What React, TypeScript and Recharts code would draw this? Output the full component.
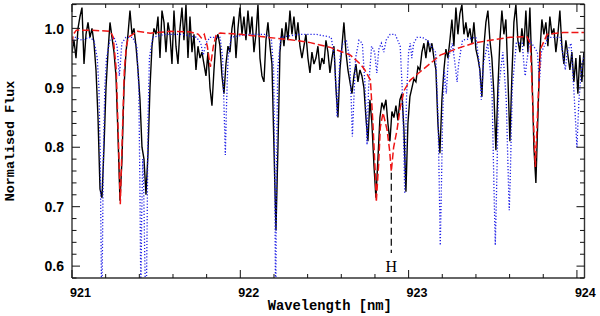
import React from 'react';
import { LineChart, Line, XAxis, YAxis, ReferenceLine, ReferenceDot } from 'recharts';

const OBS_START = 921.0;
const OBS_STEP = 0.01188;
const observedFlux = [
  0.96, 0.98, 0.95, 1.0, 1.02, 1.035, 0.94, 0.99, 1.01, 0.985,
  1.0, 0.975, 0.93, 0.85, 0.73, 0.715, 0.8, 0.9, 0.96, 1.01,
  0.985, 0.96, 0.92, 0.82, 0.71, 0.78, 0.9, 0.96, 0.99, 1.03,
  0.99, 1.0, 0.97, 0.93, 0.88, 0.8, 0.78, 0.72, 0.79, 0.9,
  0.97, 1.0, 0.99, 1.02, 0.95, 1.03, 1.01, 0.96, 1.01, 0.99,
  0.94, 1.03, 0.97, 0.94, 1.0, 1.035, 0.98, 1.04, 0.95, 1.02,
  0.96, 0.99, 0.93, 0.97, 0.95, 0.96, 0.94, 0.92, 0.96, 0.9,
  0.87, 0.93, 0.98, 0.99, 0.97, 0.92, 0.89, 0.94, 0.97, 0.96,
  1.0, 1.02, 0.95, 1.0, 1.035, 0.99, 1.02, 0.98, 1.03, 0.99,
  1.02, 0.96, 0.99, 1.04, 0.95, 0.92, 0.91, 0.98, 1.01, 0.97,
  0.94, 0.8, 0.66, 0.8, 0.96, 1.0, 0.97, 1.01, 0.98, 1.03,
  0.99, 1.02, 0.98, 1.01, 0.97, 0.95, 0.97, 0.99, 0.95, 0.925,
  0.96, 0.94, 0.95, 0.97, 0.93, 0.95, 0.94, 0.98, 0.96, 0.925,
  0.95, 0.97, 0.9, 0.85, 0.93, 0.97, 1.01, 0.96, 0.93, 0.91,
  0.89, 0.92, 0.94, 0.91, 0.93, 0.92, 0.9, 0.85, 0.81, 0.88,
  0.84, 0.77, 0.715, 0.78, 0.85, 0.875, 0.865, 0.88, 0.84, 0.81,
  0.86, 0.85, 0.87, 0.845, 0.88, 0.89, 0.83, 0.725, 0.84, 0.885,
  0.9, 0.915, 0.91, 0.935, 0.93, 0.96, 0.975, 0.95, 0.98, 0.96,
  0.975, 0.95, 0.93, 0.84, 0.79, 0.88, 0.93, 0.965, 0.95, 0.98,
  1.015, 0.97, 1.035, 0.99, 1.025, 1.04, 0.99, 1.01, 0.985, 1.0,
  0.975, 1.01, 0.965, 0.95, 0.93, 0.885, 0.97, 1.01, 1.03, 0.98,
  0.95, 0.89, 0.795, 0.9, 0.98, 1.03, 0.99, 1.015, 0.92, 0.81,
  0.92, 1.01, 1.04, 0.98, 0.96, 1.0, 0.97, 1.03, 0.96, 1.035,
  0.93, 0.8, 0.74, 0.85, 0.96, 1.015, 0.99, 1.01, 0.97, 1.02,
  0.99, 1.0, 0.96, 0.99, 1.03, 0.97, 0.94, 0.98, 0.955, 0.93,
  0.96, 0.91, 0.95, 0.89, 0.955, 0.91, 0.96,
];

// Stellar model (red dashed): [wavelength nm, flux]
const modelPoints: [number, number][] = [
  [921.0, 0.975], [921.008, 0.99], [921.026, 0.997], [921.1, 0.997], [921.168, 0.996],
  [921.228, 0.995], [921.245, 0.985], [921.263, 0.93], [921.275, 0.82], [921.287, 0.704],
  [921.299, 0.82], [921.311, 0.93], [921.323, 0.97], [921.335, 0.985], [921.388, 0.995],
  [921.465, 0.992], [921.584, 0.995], [921.703, 0.994], [921.751, 0.99], [921.768, 0.984],
  [921.786, 0.99], [921.804, 0.97], [921.822, 0.935], [921.84, 0.97], [921.857, 0.99],
  [921.881, 0.992], [922.0, 0.99], [922.159, 0.985], [922.297, 0.981], [922.416, 0.976],
  [922.535, 0.968], [922.654, 0.955], [922.713, 0.94], [922.74, 0.93], [922.773, 0.913],
  [922.788, 0.84], [922.802, 0.756], [922.808, 0.708], [922.822, 0.773], [922.832, 0.834],
  [922.848, 0.858], [922.872, 0.829], [922.887, 0.795], [922.897, 0.759], [922.911, 0.8],
  [922.931, 0.829], [922.951, 0.868], [922.974, 0.896], [923.01, 0.913], [923.069, 0.927],
  [923.129, 0.941], [923.188, 0.955], [923.288, 0.966], [923.384, 0.975], [923.485, 0.98],
  [923.604, 0.985], [923.703, 0.986], [923.723, 0.975], [923.738, 0.87], [923.753, 0.767],
  [923.768, 0.87], [923.783, 0.965], [923.823, 0.99], [923.919, 0.993], [924.05, 0.993],
];

// Telluric transmission (blue dotted): [wavelength nm, flux]
const telluricPoints: [number, number][] = [
  [921.0, 0.975], [921.02, 0.985], [921.06, 0.98], [921.1, 0.985], [921.13, 0.98],
  [921.15, 0.95], [921.16, 0.9], [921.168, 0.78], [921.174, 0.6], [921.177, 0.5],
  [921.18, 0.6], [921.186, 0.78], [921.195, 0.9], [921.205, 0.95], [921.225, 0.98],
  [921.25, 0.985], [921.268, 0.97], [921.276, 0.94], [921.281, 0.92], [921.287, 0.94],
  [921.296, 0.975], [921.32, 0.985], [921.36, 0.985], [921.385, 0.97], [921.397, 0.9],
  [921.404, 0.72], [921.409, 0.55], [921.414, 0.68], [921.42, 0.78], [921.425, 0.75],
  [921.432, 0.62], [921.44, 0.5], [921.446, 0.66], [921.452, 0.85], [921.46, 0.95],
  [921.48, 0.985], [921.55, 0.99], [921.65, 0.99], [921.74, 0.985], [921.765, 0.975],
  [921.78, 0.955], [921.795, 0.975], [921.82, 0.985], [921.88, 0.985], [921.895, 0.95],
  [921.903, 0.87], [921.911, 0.787], [921.918, 0.87], [921.927, 0.95], [921.945, 0.985],
  [922.05, 0.99], [922.15, 0.99], [922.185, 0.98], [922.198, 0.93], [922.205, 0.75],
  [922.21, 0.5], [922.215, 0.75], [922.222, 0.93], [922.24, 0.985], [922.35, 0.99],
  [922.45, 0.99], [922.54, 0.985], [922.56, 0.95], [922.57, 0.89], [922.575, 0.851],
  [922.581, 0.89], [922.592, 0.95], [922.61, 0.975], [922.63, 0.98], [922.65, 0.95],
  [922.66, 0.87], [922.666, 0.818], [922.673, 0.87], [922.685, 0.95], [922.705, 0.98],
  [922.725, 0.975], [922.742, 0.9], [922.753, 0.804], [922.762, 0.9], [922.78, 0.97],
  [922.798, 0.96], [922.811, 0.925], [922.823, 0.965], [922.838, 0.975], [922.853, 0.96],
  [922.866, 0.98], [922.89, 0.99], [922.92, 0.99], [922.95, 0.97], [922.965, 0.88],
  [922.977, 0.722], [922.987, 0.88], [923.0, 0.96], [923.01, 0.975], [923.019, 0.95],
  [923.03, 0.975], [923.05, 0.985], [923.08, 0.985], [923.11, 0.98], [923.16, 0.96],
  [923.175, 0.85], [923.183, 0.72], [923.188, 0.635], [923.194, 0.72], [923.202, 0.85],
  [923.212, 0.93], [923.224, 0.89], [923.236, 0.95], [923.26, 0.975], [923.28, 0.93],
  [923.288, 0.91], [923.297, 0.94], [923.32, 0.98], [923.4, 0.985], [923.42, 0.94],
  [923.432, 0.88], [923.444, 0.94], [923.47, 0.975], [923.495, 0.9], [923.508, 0.72],
  [923.515, 0.635], [923.522, 0.72], [923.535, 0.9], [923.56, 0.96], [923.58, 0.88],
  [923.592, 0.75], [923.598, 0.694], [923.604, 0.75], [923.616, 0.9], [923.64, 0.975],
  [923.675, 0.975], [923.688, 0.93], [923.693, 0.92], [923.7, 0.94], [923.72, 0.98],
  [923.765, 0.96], [923.777, 0.91], [923.789, 0.96], [923.83, 0.985], [923.9, 0.985],
  [923.92, 0.95], [923.931, 0.93], [923.942, 0.96], [923.965, 0.975], [923.985, 0.88],
  [924.0, 0.8], [924.012, 0.88], [924.03, 0.94], [924.05, 0.96],
];

const xMajorTicks = [921, 922, 923, 924];
const xMinorTicks = [921.2, 921.4, 921.6, 921.8, 922.2, 922.4, 922.6, 922.8, 923.2, 923.4, 923.6, 923.8];
const yMajorTicks = [0.6, 0.7, 0.8, 0.9, 1.0];
const yMinorTicks = [0.58, 0.62, 0.64, 0.66, 0.68, 0.72, 0.74, 0.76, 0.78, 0.82, 0.84, 0.86, 0.88, 0.92, 0.94, 0.96, 0.98, 1.02, 1.04];

const X_DOMAIN: [number, number] = [921, 924.045];
const Y_DOMAIN: [number, number] = [0.58, 1.041];

const lineMark = { x: 922.897, yTop: 0.757, yBottom: 0.622, labelY: 0.5905, label: 'H' };

const xLabel = 'Wavelength [nm]';
const yLabel = 'Normalised Flux';

const observedData = observedFlux.map((f, i) => ({ x: +(OBS_START + i * OBS_STEP).toFixed(5), y: f }));
const modelData = modelPoints.map(([x, y]) => ({ x, y }));
const telluricData = telluricPoints.map(([x, y]) => ({ x, y }));

const xTicks = [...xMajorTicks, ...xMinorTicks].sort((a, b) => a - b);
const yTicks = [...yMajorTicks, ...yMinorTicks].sort((a, b) => a - b);
const isMajor = (v: number, list: number[]) => list.some((m) => Math.abs(m - v) < 1e-6);

const TICK_COLOR = '#111';
const FRAME = '#333';
const SANS = '"Liberation Sans", Arial, Helvetica, sans-serif';
const MONO = '"Liberation Mono", "DejaVu Sans Mono", monospace';

const BottomTick = (props: any) => {
  const { x, y, payload } = props;
  const major = isMajor(payload.value, xMajorTicks);
  return (
    <g>
      <line x1={x} y1={y} x2={x} y2={y - (major ? 8 : 4)} stroke={TICK_COLOR} strokeWidth={1} />
      {major && (
        <text x={x - 2} y={y + 19} textAnchor="start" fontSize={12.5} fontWeight="bold" fontFamily={SANS} fill="#000">
          {payload.value}
        </text>
      )}
    </g>
  );
};

const TopTick = (props: any) => {
  const { x, y, payload } = props;
  const major = isMajor(payload.value, xMajorTicks);
  return <line x1={x} y1={y} x2={x} y2={y + (major ? 8 : 4)} stroke={TICK_COLOR} strokeWidth={1} />;
};

const LeftTick = (props: any) => {
  const { x, y, payload } = props;
  const major = isMajor(payload.value, yMajorTicks);
  return (
    <g>
      <line x1={x} y1={y} x2={x + (major ? 8 : 4.5)} y2={y} stroke={TICK_COLOR} strokeWidth={1} />
      {major && (
        <text x={x - 8} y={y + 5.2} textAnchor="end" fontSize={14} fontWeight="bold" fontFamily={SANS} fill="#000">
          {Number(payload.value).toFixed(1)}
        </text>
      )}
    </g>
  );
};

const RightTick = (props: any) => {
  const { x, y, payload } = props;
  const major = isMajor(payload.value, yMajorTicks);
  return <line x1={x} y1={y} x2={x - (major ? 8 : 4.5)} y2={y} stroke={TICK_COLOR} strokeWidth={1} />;
};

const HLabel = (props: any) => (
  <text x={props.cx} y={props.cy} textAnchor="middle" fontSize={16} fontFamily='"Liberation Serif", "Times New Roman", serif' fill="#000" stroke="none">
    {lineMark.label}
  </text>
);

export default function App() {
  return (
    <div style={{ width: 600, height: 316, background: '#fff' }}>
      <style>{`body{margin:0;background:#fff}`}</style>
      <LineChart width={600} height={316} margin={{ top: 0, right: 0, bottom: 0, left: 0 }}>
        <XAxis
          xAxisId="b"
          type="number"
          dataKey="x"
          orientation="bottom"
          domain={X_DOMAIN}
          allowDataOverflow
          ticks={xTicks}
          interval={0}
          height={38}
          tickSize={0}
          tickMargin={0}
          tickLine={false}
          tick={<BottomTick />}
          axisLine={{ stroke: FRAME, strokeWidth: 1.4 }}
          label={{
            content: (p: any) => (
              <text
                x={p.viewBox.x + p.viewBox.width / 2 + 1.5}
                y={p.viewBox.y + 32}
                textAnchor="middle"
                fontSize={13.8}
                fontWeight="bold"
                fontFamily={MONO}
                fill="#000"
              >
                {xLabel}
              </text>
            ),
          }}
        />
        <XAxis
          xAxisId="t"
          type="number"
          dataKey="x"
          orientation="top"
          domain={X_DOMAIN}
          allowDataOverflow
          ticks={xTicks}
          interval={0}
          height={4}
          tickSize={0}
          tickMargin={0}
          tickLine={false}
          tick={<TopTick />}
          axisLine={{ stroke: FRAME, strokeWidth: 1.4 }}
        />
        <YAxis
          yAxisId="l"
          type="number"
          orientation="left"
          domain={Y_DOMAIN}
          allowDataOverflow
          ticks={yTicks}
          interval={0}
          width={72}
          tickSize={0}
          tickMargin={0}
          tickLine={false}
          tick={<LeftTick />}
          axisLine={{ stroke: FRAME, strokeWidth: 1.4 }}
          label={{
            content: (p: any) => {
              const cy = p.viewBox.y + p.viewBox.height / 2;
              return (
                <text
                  x={14}
                  y={cy}
                  transform={`rotate(-90 14 ${cy})`}
                  textAnchor="middle"
                  fontSize={13.4}
                  fontWeight="bold"
                  fontFamily={MONO}
                  fill="#000"
                >
                  {yLabel}
                </text>
              );
            },
          }}
        />
        <YAxis
          yAxisId="r"
          type="number"
          orientation="right"
          domain={Y_DOMAIN}
          allowDataOverflow
          ticks={yTicks}
          interval={0}
          width={15.5}
          tickSize={0}
          tickMargin={0}
          tickLine={false}
          tick={<RightTick />}
          axisLine={{ stroke: FRAME, strokeWidth: 1.4 }}
        />
        <Line
          xAxisId="b"
          yAxisId="l"
          data={observedData}
          dataKey="y"
          type="linear"
          stroke="#000"
          strokeWidth={1.4}
          dot={false}
          activeDot={false}
          isAnimationActive={false}
        />
        <Line
          xAxisId="b"
          yAxisId="l"
          data={telluricData}
          dataKey="y"
          type="linear"
          stroke="#1f1fe6"
          strokeWidth={1.3}
          strokeDasharray="1.2 1.9"
          dot={false}
          activeDot={false}
          isAnimationActive={false}
        />
        <Line
          xAxisId="b"
          yAxisId="l"
          data={modelData}
          dataKey="y"
          type="linear"
          stroke="#ee1515"
          strokeWidth={1.5}
          strokeDasharray="7 3"
          dot={false}
          activeDot={false}
          isAnimationActive={false}
        />
        <ReferenceLine
          xAxisId="b"
          yAxisId="l"
          segment={[
            { x: lineMark.x, y: lineMark.yTop },
            { x: lineMark.x, y: lineMark.yBottom },
          ]}
          stroke="#000"
          strokeWidth={1.2}
          strokeDasharray="7 4"
        />
        <ReferenceDot xAxisId="b" yAxisId="l" x={lineMark.x} y={lineMark.labelY} r={0} shape={<HLabel />} />
      </LineChart>
    </div>
  );
}
